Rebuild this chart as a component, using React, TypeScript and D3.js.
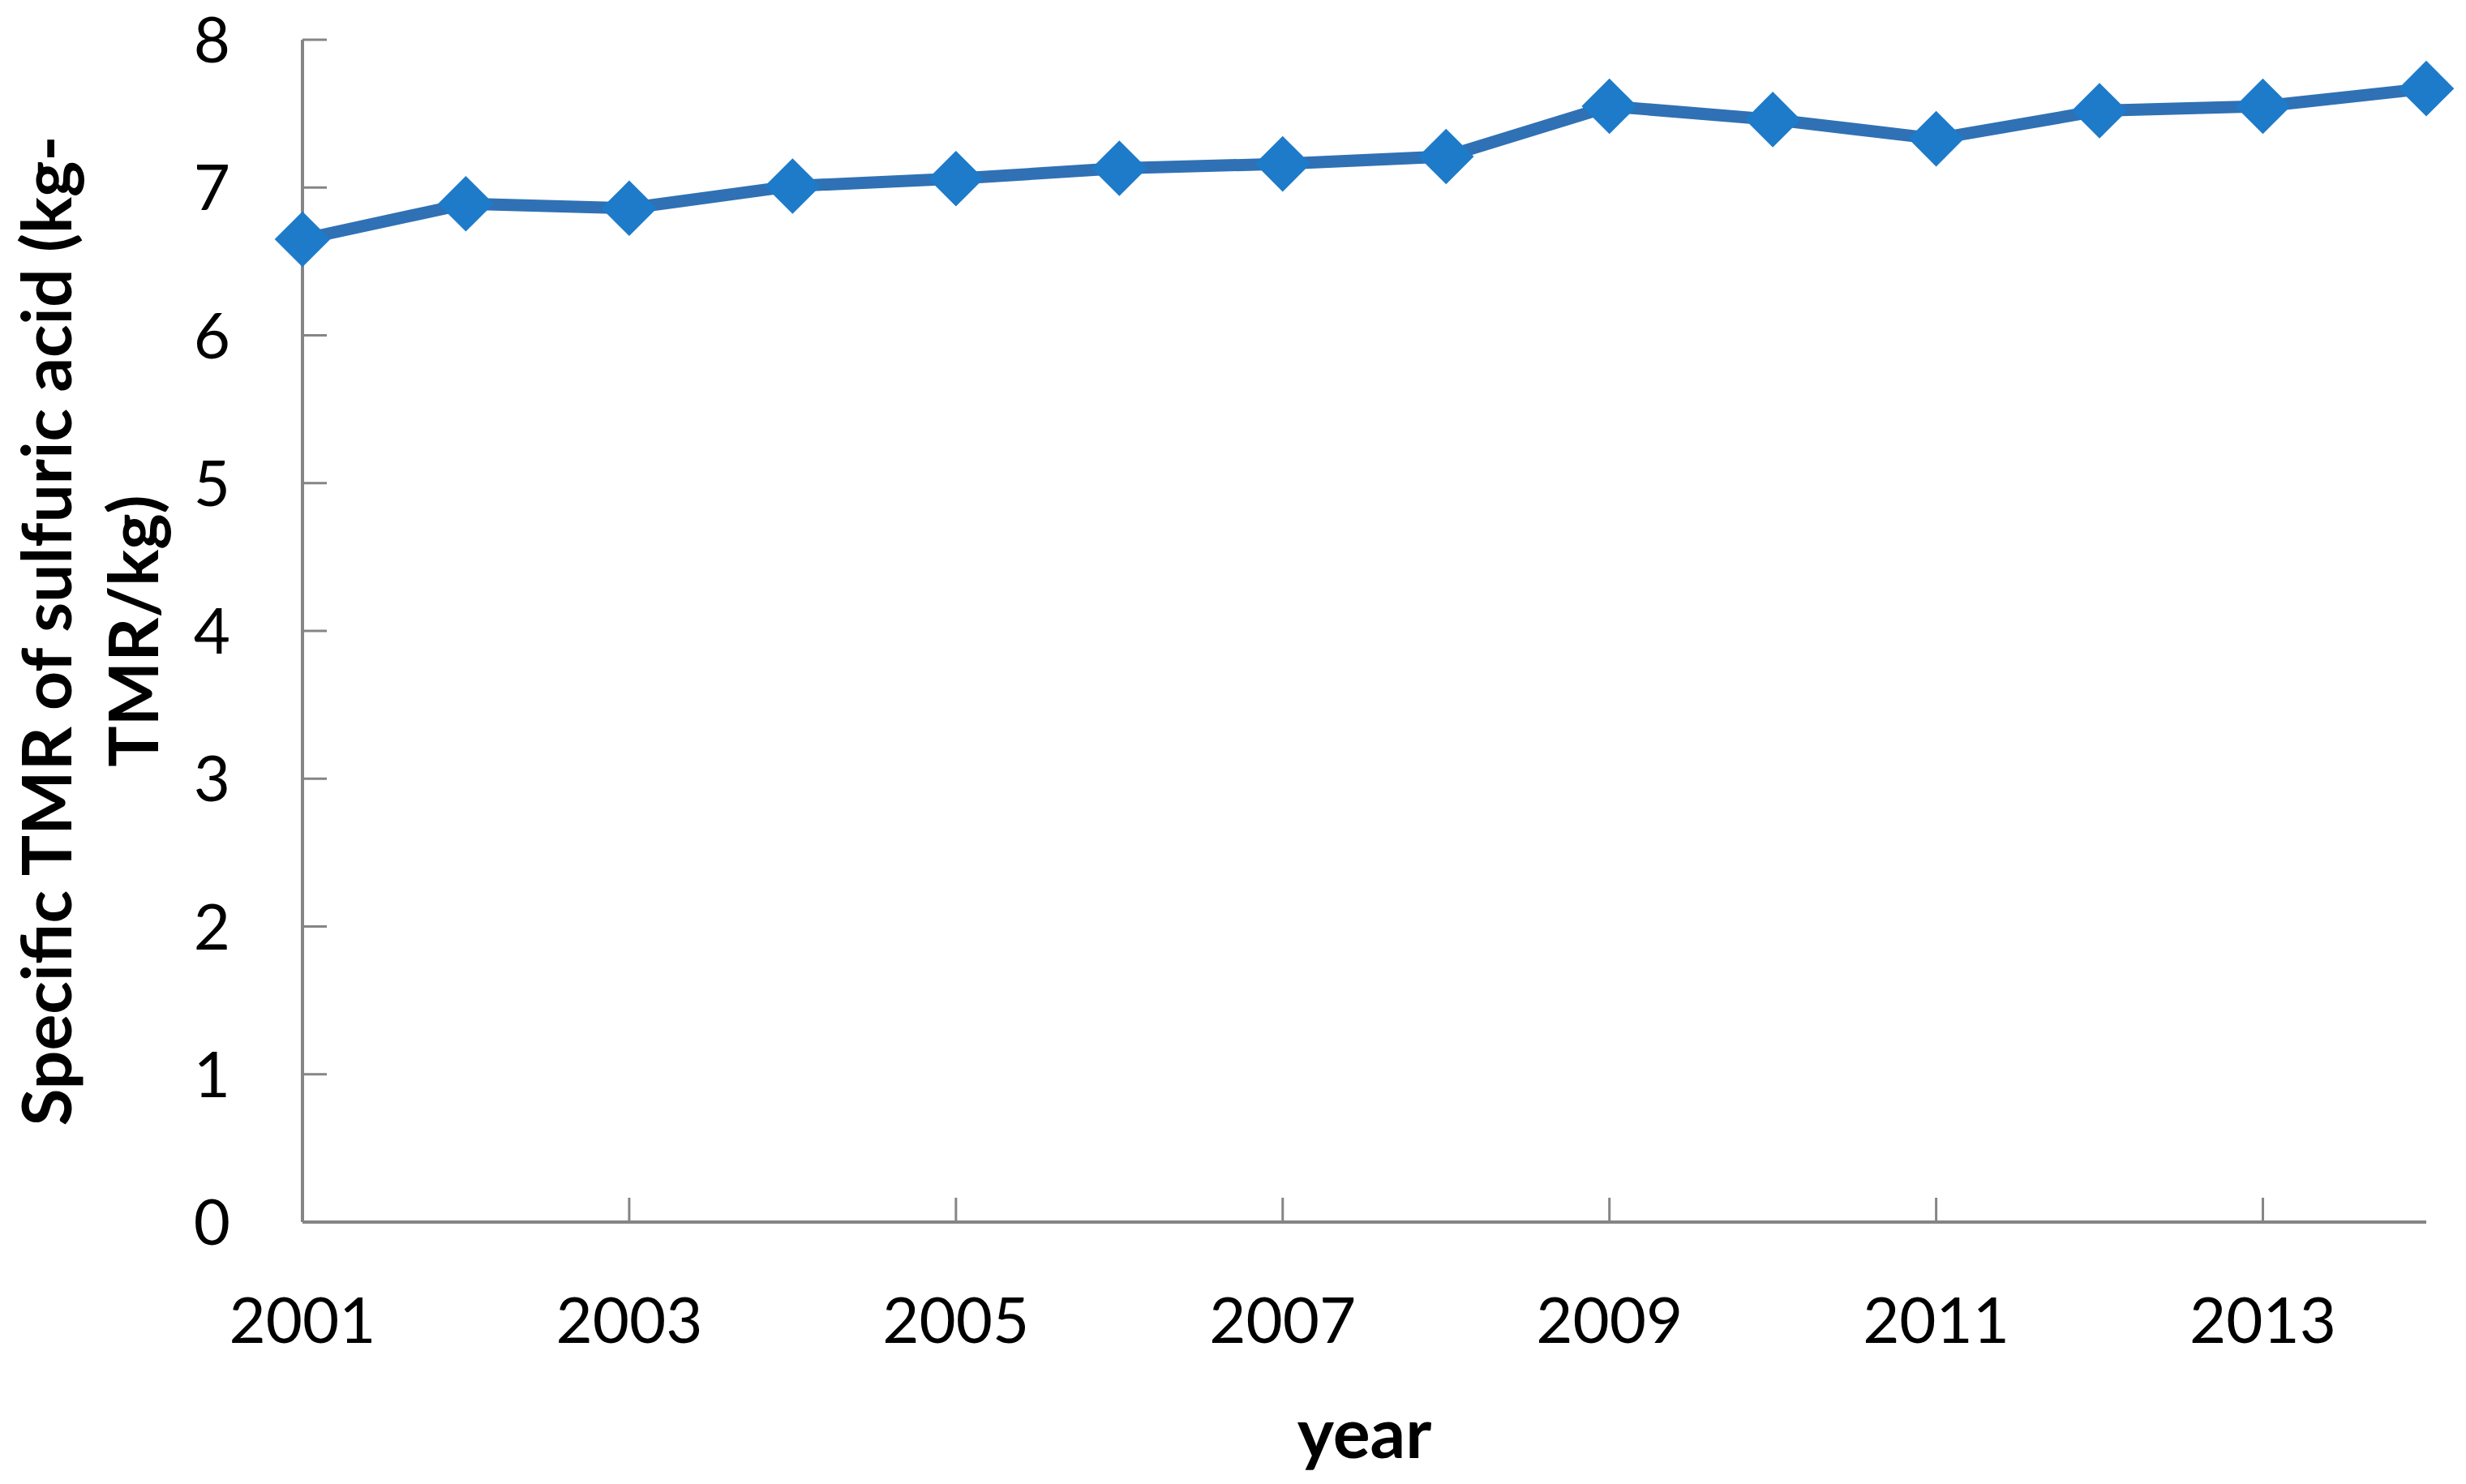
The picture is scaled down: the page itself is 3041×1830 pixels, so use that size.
import React, { useEffect, useRef } from "react";
import * as d3 from "d3";

const years: number[] = [2001, 2002, 2003, 2004, 2005, 2006, 2007, 2008, 2009, 2010, 2011, 2012, 2013, 2014];
const tmrValues: number[] = [6.65, 6.89, 6.86, 7.01, 7.06, 7.13, 7.16, 7.21, 7.55, 7.46, 7.33, 7.52, 7.55, 7.67];
const xTickYears: number[] = [2001, 2003, 2005, 2007, 2009, 2011, 2013];
const yTicks: number[] = [0, 1, 2, 3, 4, 5, 6, 7, 8];
const yTitleLines: string[] = ["Specific TMR of sulfuric acid (kg-", "TMR/kg)"];
const xTitle = "year";

const W = 3041;
const H = 1830;

export default function App() {
  const ref = useRef<SVGSVGElement | null>(null);

  useEffect(() => {
    document.body.style.margin = "0";
    document.body.style.overflow = "hidden";
    const svg = d3.select(ref.current);
    svg.selectAll("*").remove();

    const left = 373, right = 2992, top = 49, bottom = 1507;
    const x = d3.scaleLinear().domain([2001, 2014]).range([left, right]);
    const y = d3.scaleLinear().domain([0, 8]).range([bottom, top]);

    const axisColor = "#858585";
    const font = "Lato, 'Open Sans', sans-serif";

    svg.append("rect").attr("width", W).attr("height", H).attr("fill", "#fff");

    // y axis
    const gy = svg.append("g");
    gy.append("line").attr("x1", left).attr("x2", left).attr("y1", top).attr("y2", bottom)
      .attr("stroke", axisColor).attr("stroke-width", 4);
    gy.selectAll("line.tick").data(yTicks).enter().append("line")
      .attr("class", "tick")
      .attr("x1", left).attr("x2", left + 30)
      .attr("y1", (d) => y(d)).attr("y2", (d) => y(d))
      .attr("stroke", axisColor).attr("stroke-width", 3);
    gy.selectAll("text").data(yTicks).enter().append("text")
      .attr("x", 284).attr("y", (d) => y(d))
      .attr("dy", "0.36em")
      .attr("text-anchor", "end")
      .attr("font-family", font).attr("font-size", 78).attr("fill", "#000")
      .text((d) => String(d));

    // x axis
    const gx = svg.append("g");
    gx.append("line").attr("x1", left).attr("x2", right).attr("y1", bottom).attr("y2", bottom)
      .attr("stroke", axisColor).attr("stroke-width", 4);
    gx.selectAll("line.tick").data(xTickYears).enter().append("line")
      .attr("class", "tick")
      .attr("x1", (d) => x(d)).attr("x2", (d) => x(d))
      .attr("y1", bottom).attr("y2", bottom - 30)
      .attr("stroke", axisColor).attr("stroke-width", 3);
    gx.selectAll("text").data(xTickYears).enter().append("text")
      .attr("x", (d) => x(d)).attr("y", 1656)
      .attr("text-anchor", "middle")
      .attr("font-family", font).attr("font-size", 78).attr("fill", "#000")
      .text((d) => String(d));

    // titles
    svg.append("text")
      .attr("x", (left + right) / 2).attr("y", 1798)
      .attr("text-anchor", "middle")
      .attr("font-family", font).attr("font-weight", "bold").attr("font-size", 86)
      .attr("fill", "#000")
      .text(xTitle);

    const baselines = [88, 195];
    yTitleLines.forEach((line, i) => {
      svg.append("text")
        .attr("transform", `translate(${baselines[i]},${(top + bottom) / 2}) rotate(-90)`)
        .attr("text-anchor", "middle")
        .attr("font-family", font).attr("font-weight", "bold").attr("font-size", 84)
        .attr("fill", "#000")
        .text(line);
    });

    // line
    const data = years.map((yr, i) => ({ yr, v: tmrValues[i] }));
    const lineGen = d3.line<{ yr: number; v: number }>().x((d) => x(d.yr)).y((d) => y(d.v));
    svg.append("path").datum(data).attr("d", lineGen)
      .attr("fill", "none").attr("stroke", "#2F71B4").attr("stroke-width", 15)
      .attr("stroke-linejoin", "round");

    const sym = d3.symbol().type(d3.symbolDiamond2).size(3000);
    svg.selectAll("path.marker").data(data).enter().append("path")
      .attr("class", "marker")
      .attr("d", sym()!)
      .attr("transform", (d) => `translate(${x(d.yr)},${y(d.v)})`)
      .attr("fill", "#1E7BC9");
  }, []);

  return <svg ref={ref} width={W} height={H} style={{ display: "block" }} />;
}
